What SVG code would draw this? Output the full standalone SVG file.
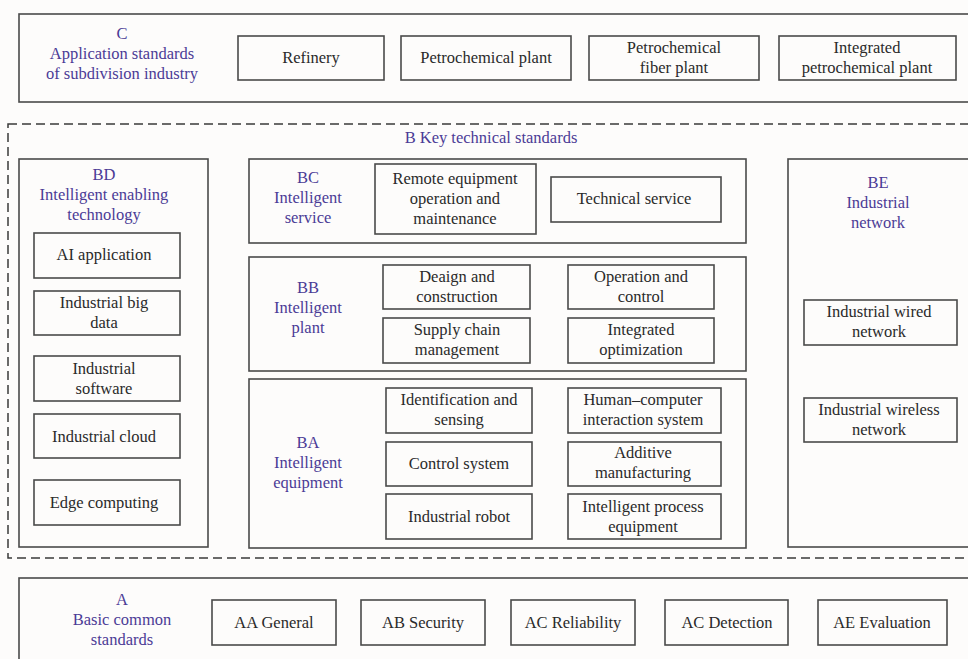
<svg xmlns="http://www.w3.org/2000/svg" width="968" height="659" viewBox="0 0 968 659">
<style>
.bg{fill:#fdfcfb}
.frame{fill:none;stroke:#4a4a4a;stroke-width:1.6}
.box{fill:#fdfcfb;stroke:#4a4a4a;stroke-width:1.6}
.dash{fill:none;stroke:#3a3a3a;stroke-width:1.5;stroke-dasharray:9 5}
text{font-size:16.5px;text-anchor:middle}
.t{fill:#2a2a2a}
.l{fill:#4b3b96}
</style>
<rect class="bg" x="0" y="0" width="968" height="659"/>
<g font-family="'Liberation Serif', 'Times New Roman', 'DejaVu Serif', serif">
<g id="C">
<rect class="frame" x="19" y="14" width="960" height="88"/>
<text class="l" x="122" y="39">C</text>
<text class="l" x="122" y="59">Application standards</text>
<text class="l" x="122" y="79">of subdivision industry</text>
</g>
<g id="C-refinery"><rect class="box" x="238" y="36" width="146" height="44"/><text class="t" x="311" y="63">Refinery</text></g>
<g id="C-petrochemical"><rect class="box" x="401" y="36" width="170" height="44"/><text class="t" x="486" y="63">Petrochemical plant</text></g>
<g id="C-fiber"><rect class="box" x="589" y="36" width="170" height="44"/><text class="t" x="674" y="53">Petrochemical</text><text class="t" x="674" y="73">fiber plant</text></g>
<g id="C-integrated"><rect class="box" x="779" y="36" width="177" height="44"/><text class="t" x="867" y="53">Integrated</text><text class="t" x="867" y="73">petrochemical plant</text></g>

<g id="B">
<rect class="dash" x="8" y="124" width="975" height="434"/>
<text class="l" x="491" y="143">B Key technical standards</text>
</g>

<g id="BD">
<rect class="frame" x="19" y="159" width="189" height="388"/>
<text class="l" x="104" y="180">BD</text>
<text class="l" x="104" y="200">Intelligent enabling</text>
<text class="l" x="104" y="220">technology</text>
</g>
<g id="BD-ai"><rect class="box" x="34" y="233" width="146" height="45"/><text class="t" x="104" y="260">AI application</text></g>
<g id="BD-bigdata"><rect class="box" x="34" y="291" width="146" height="44"/><text class="t" x="104" y="308">Industrial big</text><text class="t" x="104" y="328">data</text></g>
<g id="BD-software"><rect class="box" x="34" y="356" width="146" height="45"/><text class="t" x="104" y="374">Industrial</text><text class="t" x="104" y="394">software</text></g>
<g id="BD-cloud"><rect class="box" x="34" y="414" width="146" height="44"/><text class="t" x="104" y="442">Industrial cloud</text></g>
<g id="BD-edge"><rect class="box" x="34" y="480" width="146" height="45"/><text class="t" x="104" y="508">Edge computing</text></g>

<g id="BC">
<rect class="frame" x="249" y="159" width="497" height="84"/>
<text class="l" x="308" y="183">BC</text>
<text class="l" x="308" y="203">Intelligent</text>
<text class="l" x="308" y="223">service</text>
</g>
<g id="BC-remote"><rect class="box" x="375" y="164" width="161" height="70"/><text class="t" x="455" y="184">Remote equipment</text><text class="t" x="455" y="204">operation and</text><text class="t" x="455" y="224">maintenance</text></g>
<g id="BC-tech"><rect class="box" x="551" y="177" width="170" height="45"/><text class="t" x="634" y="204">Technical service</text></g>

<g id="BB">
<rect class="frame" x="249" y="257" width="497" height="114"/>
<text class="l" x="308" y="293">BB</text>
<text class="l" x="308" y="313">Intelligent</text>
<text class="l" x="308" y="333">plant</text>
</g>
<g id="BB-design"><rect class="box" x="383" y="265" width="147" height="44"/><text class="t" x="457" y="282">Deaign and</text><text class="t" x="457" y="302">construction</text></g>
<g id="BB-supply"><rect class="box" x="383" y="318" width="147" height="45"/><text class="t" x="457" y="335">Supply chain</text><text class="t" x="457" y="355">management</text></g>
<g id="BB-operation"><rect class="box" x="568" y="265" width="146" height="44"/><text class="t" x="641" y="282">Operation and</text><text class="t" x="641" y="302">control</text></g>
<g id="BB-integrated"><rect class="box" x="568" y="318" width="146" height="45"/><text class="t" x="641" y="335">Integrated</text><text class="t" x="641" y="355">optimization</text></g>

<g id="BA">
<rect class="frame" x="249" y="379" width="497" height="169"/>
<text class="l" x="308" y="448">BA</text>
<text class="l" x="308" y="468">Intelligent</text>
<text class="l" x="308" y="488">equipment</text>
</g>
<g id="BA-ident"><rect class="box" x="386" y="388" width="146" height="45"/><text class="t" x="459" y="405">Identification and</text><text class="t" x="459" y="425">sensing</text></g>
<g id="BA-control"><rect class="box" x="386" y="442" width="146" height="44"/><text class="t" x="459" y="469">Control system</text></g>
<g id="BA-robot"><rect class="box" x="386" y="494" width="146" height="45"/><text class="t" x="459" y="522">Industrial robot</text></g>
<g id="BA-hci"><rect class="box" x="568" y="388" width="153" height="45"/><text class="t" x="643" y="405">Human–computer</text><text class="t" x="643" y="425">interaction system</text></g>
<g id="BA-additive"><rect class="box" x="568" y="442" width="153" height="44"/><text class="t" x="643" y="458">Additive</text><text class="t" x="643" y="478">manufacturing</text></g>
<g id="BA-process"><rect class="box" x="568" y="494" width="153" height="45"/><text class="t" x="643" y="512">Intelligent process</text><text class="t" x="643" y="532">equipment</text></g>

<g id="BE">
<rect class="frame" x="788" y="159" width="195" height="388"/>
<text class="l" x="878" y="188">BE</text>
<text class="l" x="878" y="208">Industrial</text>
<text class="l" x="878" y="228">network</text>
</g>
<g id="BE-wired"><rect class="box" x="804" y="300" width="153" height="45"/><text class="t" x="879" y="317">Industrial wired</text><text class="t" x="879" y="337">network</text></g>
<g id="BE-wireless"><rect class="box" x="804" y="398" width="153" height="44"/><text class="t" x="879" y="415">Industrial wireless</text><text class="t" x="879" y="435">network</text></g>

<g id="A">
<rect class="frame" x="19" y="578" width="960" height="100"/>
<text class="l" x="122" y="605">A</text>
<text class="l" x="122" y="625">Basic common</text>
<text class="l" x="122" y="645">standards</text>
</g>
<g id="A-general"><rect class="box" x="212" y="600" width="124" height="45"/><text class="t" x="274" y="628">AA General</text></g>
<g id="A-security"><rect class="box" x="361" y="600" width="124" height="45"/><text class="t" x="423" y="628">AB Security</text></g>
<g id="A-reliability"><rect class="box" x="511" y="600" width="124" height="45"/><text class="t" x="573" y="628">AC Reliability</text></g>
<g id="A-detection"><rect class="box" x="665" y="600" width="123" height="45"/><text class="t" x="727" y="628">AC Detection</text></g>
<g id="A-evaluation"><rect class="box" x="818" y="600" width="129" height="45"/><text class="t" x="882" y="628">AE Evaluation</text></g>
</g>
<g id="connectors"></g>
</svg>
